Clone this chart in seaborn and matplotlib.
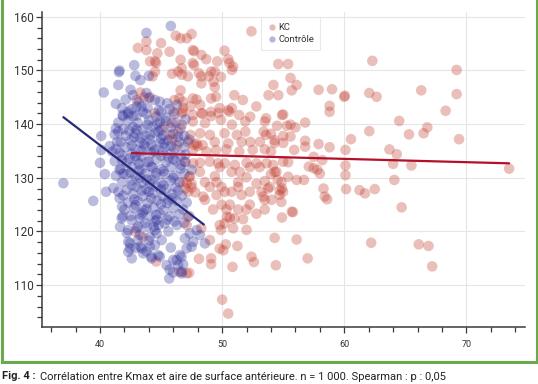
import matplotlib
matplotlib.use("Agg")
import matplotlib.pyplot as plt
from matplotlib.lines import Line2D
import seaborn as sns
import pandas as pd

# ---------------- data ----------------
kc_points = [
    # upper area
    (52.4, 157.3), (46.2, 156.5), (46.6, 156.0), (47.1, 156.0), (47.5, 156.8), (45.0, 155.1),
    (47.6, 153.8), (47.7, 153.6), (44.7, 153.2), (45.7, 153.5), (50.2, 153.7), (48.3, 152.9),
    (48.7, 152.1), (46.6, 152.0), (47.6, 151.4), (47.7, 151.0), (49.6, 151.7), (50.5, 152.1),
    (50.6, 151.4), (50.9, 150.7), (50.8, 150.1), (44.5, 151.7), (44.6, 151.4), (44.5, 149.8),
    (45.9, 149.4), (46.4, 149.8), (46.7, 149.2), (46.7, 150.4), (47.2, 148.9), (48.1, 149.5),
    (48.3, 148.9), (48.9, 148.9), (49.1, 149.8), (49.4, 149.8), (49.9, 148.8), (48.3, 147.6),
    (49.3, 147.9), (54.2, 147.3), (53.8, 145.4), (54.6, 145.4), (51.0, 145.4), (51.7, 144.5),
    (49.4, 146.9), (49.5, 145.1), (49.1, 144.8), (46.6, 146.3), (46.5, 144.8), (46.8, 144.2),
    (47.6, 144.8), (47.9, 144.6), (48.2, 143.6), (47.4, 143.3), (46.8, 143.0), (46.1, 144.5),
    (49.8, 143.0), (50.5, 142.6), (50.8, 143.0), (52.8, 143.3), (51.4, 141.7), (52.3, 141.4),
    (53.6, 141.1), (54.9, 141.7), (48.4, 142.0), (49.1, 141.5), (46.0, 142.3), (46.7, 142.0),
    (43.8, 155.4), (43.1, 154.2), (43.8, 153.8), (44.1, 151.7), (44.3, 148.9), (43.3, 145.9),
    (43.6, 145.0), (44.1, 145.0), (43.0, 144.5), (44.5, 142.0),
    # right, sparse area
    (62.3, 151.8), (69.2, 150.1), (55.4, 151.2), (54.6, 151.2), (55.6, 148.6), (56.1, 147.3),
    (55.7, 146.3), (57.9, 146.4), (59.0, 146.5), (60.0, 145.1), (60.05, 145.3), (62.05, 145.8),
    (62.65, 145.1), (66.3, 146.3), (69.2, 145.6), (68.3, 142.5), (58.8, 143.4), (58.8, 142.3),
    (55.0, 141.8), (64.5, 140.6), (62.05, 138.7), (66.8, 139.4), (66.5, 138.3), (65.3, 138.1),
    (69.4, 137.2), (60.55, 137.2), (56.8, 140.3), (54.5, 139.7), (55.3, 139.7), (55.6, 139.9),
    (56.0, 139.4), (54.0, 138.2), (55.0, 137.8), (55.6, 137.7), (54.3, 136.5), (55.0, 136.5),
    (56.8, 136.9), (56.8, 135.8), (57.9, 136.3), (58.8, 135.7), (55.9, 135.2), (60.1, 135.2),
    (63.7, 135.3), (64.3, 134.4), (57.5, 133.9), (58.2, 133.3), (55.4, 132.9), (60.1, 132.3),
    (64.0, 132.6), (65.5, 132.3), (73.5, 131.7), (57.1, 132.1), (57.5, 131.8), (57.8, 131.5),
    (58.0, 130.8), (54.3, 131.1), (54.0, 130.7), (54.55, 129.6), (55.4, 130.2), (56.1, 129.6),
    (56.7, 129.6), (60.1, 130.5), (64.1, 129.6), (60.15, 127.9), (61.25, 127.7), (61.7, 127.1),
    (62.5, 127.9), (64.7, 124.5), (58.3, 128.0), (58.4, 126.5), (58.6, 126.0), (54.9, 128.0),
    (54.7, 126.8), (54.85, 125.5), (55.7, 123.7), (55.8, 123.6), (54.9, 122.6), (56.1, 118.5),
    (57.0, 115.0), (62.2, 117.9), (66.1, 117.6), (66.9, 117.3), (67.2, 113.5), (54.3, 118.8),
    (54.4, 113.7),
    # central band
    (46.8, 142.3), (47.6, 141.7), (48.3, 142.0), (49.1, 142.3), (49.7, 142.1), (50.6, 142.3),
    (45.9, 140.2), (46.7, 139.9), (47.6, 140.5), (48.6, 140.2), (49.9, 140.8), (50.8, 139.9),
    (51.9, 140.5), (53.5, 140.5),
    (45.7, 138.0), (46.4, 138.6), (47.4, 138.0), (48.2, 138.3), (49.0, 138.0), (50.2, 138.3),
    (51.2, 138.0), (51.9, 138.6), (53.4, 138.6), (53.6, 138.0),
    (47.2, 136.7), (47.9, 136.4), (48.4, 136.1), (49.4, 136.7), (50.5, 136.4), (51.6, 136.7),
    (52.3, 136.7), (53.1, 136.7), (54.3, 137.0),
    (47.6, 135.2), (48.7, 134.9), (49.5, 135.2), (50.35, 135.3), (51.4, 134.9), (52.5, 135.2),
    (53.5, 135.3), (54.0, 134.9),
    (46.95, 133.0), (47.63, 132.7), (48.18, 132.8), (48.99, 133.0), (49.67, 132.7), (50.22, 132.7),
    (51.04, 132.4), (52.0, 132.8), (52.81, 132.7), (53.63, 132.7), (54.17, 132.4), (54.99, 133.0),
    (47.36, 130.3), (48.18, 131.1), (49.40, 130.3), (49.81, 132.0), (50.77, 131.1), (51.45, 131.1),
    (52.27, 132.0), (53.08, 132.0), (53.49, 129.4), (54.45, 131.1),
    (46.81, 129.2), (47.50, 128.9), (48.59, 129.2), (49.54, 129.2), (50.22, 127.4), (51.31, 129.2),
    (52.0, 130.1), (52.81, 128.9), (53.22, 127.4), (53.76, 128.0), (54.86, 129.2),
    (47.22, 127.4), (48.45, 126.5), (48.99, 128.3), (49.95, 128.3), (50.77, 127.4), (51.31, 128.3),
    (52.27, 127.4), (53.35, 126.5), (53.90, 128.3), (54.99, 127.4),
    (48.59, 125.9), (49.54, 126.8), (49.95, 125.0), (50.63, 125.0), (51.59, 126.8), (52.27, 125.0),
    (53.49, 125.9), (54.04, 125.9), (54.72, 127.7),
    (49.26, 124.1), (50.36, 124.1), (51.31, 124.1), (52.0, 124.1), (52.81, 123.3), (53.49, 124.1),
    (50.63, 122.6), (51.72, 122.3),
    # lower middle
    (50.4, 122.7), (51.0, 122.4), (49.8, 121.2), (49.9, 120.3), (50.9, 120.6), (52.0, 120.3),
    (50.2, 121.5), (49.0, 118.4), (49.8, 116.8), (50.3, 117.6), (50.1, 116.5), (51.25, 117.3),
    (52.4, 115.3), (52.6, 114.3), (48.1, 114.9), (49.1, 115.0), (49.1, 113.9), (50.85, 113.4),
    (47.3, 112.3), (50.0, 107.3), (50.5, 104.7), (47.2, 122.7), (48.3, 120.6), (47.1, 121.2),
    # inside the control cloud
    (42.9, 120.0), (44.6, 114.4), (46.5, 112.5), (47.1, 112.2), (43.5, 119.0),
    (47.1, 129.0), (47.5, 128.2), (47.8, 127.3), (47.3, 130.2), (47.0, 128.0),
    (47.7, 136.2), (48.0, 135.9), (45.2, 139.5), (45.9, 137.2), (46.3, 136.0),
]

ctrl_points = [
    # outer points
    (45.8, 158.3), (43.8, 157.0), (42.8, 151.0), (41.6, 150.0), (41.55, 149.7), (42.9, 149.0),
    (43.3, 148.2), (44.0, 149.0), (41.5, 147.3), (40.3, 145.9), (42.5, 146.4), (42.7, 145.4),
    (43.8, 145.8), (44.5, 144.5), (41.3, 143.8), (42.6, 142.8), (43.0, 143.3), (43.4, 143.3),
    (42.3, 141.9), (41.9, 141.5), (42.7, 141.5), (43.5, 142.3), (44.9, 144.2), (44.8, 142.6),
    (45.0, 142.3), (44.6, 141.4), (37.0, 129.0), (39.45, 125.7), (40.1, 137.8), (40.1, 135.2),
    (40.0, 132.8), (40.4, 130.7), (40.5, 127.4), (41.3, 139.2), (41.5, 138.6), (40.8, 135.9),
    (41.0, 134.9), (41.4, 136.7), (41.6, 134.7), (41.8, 133.3), (41.6, 131.5), (41.9, 130.8),
    (41.5, 127.4), (41.6, 126.2), (41.8, 124.6), (41.85, 122.8), (41.85, 141.7), (42.3, 142.3),
    # core
    (42.1, 144.6), (43.2, 144.1), (44.0, 144.9), (45.5, 143.9),
    (41.8, 143.0), (43.9, 143.1), (45.7, 142.8), (46.3, 143.6),
    (43.0, 141.6), (43.8, 141.9), (45.4, 141.2), (46.1, 141.9),
    (41.5, 140.3), (42.3, 140.6), (43.1, 140.2), (44.0, 140.7), (44.7, 140.1), (45.4, 140.6),
    (46.2, 140.3), (47.0, 140.9),
    (41.9, 139.1), (42.7, 139.5), (43.5, 139.1), (44.3, 139.6), (45.0, 139.0), (45.8, 139.4),
    (46.6, 139.2),
    (41.2, 138.1), (42.1, 137.8), (42.9, 138.3), (43.7, 137.9), (44.5, 138.4), (45.2, 137.9),
    (46.0, 138.2), (46.9, 137.8),
    (41.7, 136.7), (42.5, 137.0), (43.3, 136.6), (44.1, 137.1), (44.9, 136.6), (45.6, 137.0),
    (46.5, 136.7), (47.3, 137.1),
    (41.3, 135.4), (42.1, 135.7), (42.9, 135.3), (43.7, 135.8), (44.5, 135.3), (45.3, 135.7),
    (46.1, 135.4), (46.9, 135.8),
    (41.8, 134.2), (42.6, 134.5), (43.4, 134.1), (44.2, 134.6), (45.0, 134.1), (45.8, 134.5),
    (46.6, 134.2),
    (41.2, 133.1), (42.2, 132.8), (43.0, 133.3), (43.8, 132.9), (44.6, 133.4), (45.4, 132.9),
    (46.2, 133.2), (47.0, 132.9),
    (41.7, 131.7), (42.6, 132.0), (43.4, 131.6), (44.2, 132.1), (45.0, 131.6), (45.8, 132.0),
    (46.6, 131.7),
    (41.3, 130.4), (42.1, 130.7), (42.9, 130.3), (43.7, 130.8), (44.5, 130.3), (45.3, 130.7),
    (46.1, 130.4), (46.9, 130.8),
    (41.8, 129.2), (42.6, 129.5), (43.4, 129.1), (44.2, 129.6), (45.0, 129.1), (45.8, 129.5),
    (46.5, 129.2),
    (41.1, 128.1), (42.2, 127.8), (43.0, 128.3), (43.8, 127.9), (44.6, 128.4), (45.4, 127.9),
    (46.2, 128.2),
    (41.9, 126.7), (42.7, 127.0), (43.5, 126.6), (44.3, 127.1), (45.1, 126.6), (45.9, 127.0),
    (46.7, 126.7),
    (42.3, 125.4), (43.1, 125.7), (43.9, 125.3), (44.7, 125.8), (45.5, 125.3), (46.3, 125.7),
    (47.1, 125.4),
    (42.0, 124.1), (42.8, 124.4), (43.6, 124.0), (44.4, 124.5), (45.2, 124.0), (46.0, 124.4),
    (46.8, 124.1),
    (42.5, 122.9), (43.3, 123.2), (44.1, 122.8), (44.9, 123.3), (45.7, 122.8), (46.5, 123.2),
    (47.3, 122.9),
    (43.7, 121.6), (44.5, 121.9), (45.3, 121.5), (46.1, 121.9), (46.9, 121.6),
    (43.0, 139.0), (44.8, 138.6), (43.6, 136.2), (44.4, 135.0), (45.2, 136.4), (42.9, 134.0),
    (44.0, 133.0), (45.6, 133.8), (43.2, 131.4), (44.6, 130.9), (43.8, 129.7), (45.2, 128.6),
    (44.0, 127.4), (42.8, 126.0), (45.6, 125.9), (43.5, 123.5), (44.8, 121.2),
    (47.0, 134.3), (47.5, 131.5),
    # darkest part of the cloud (overlapping points)
    (42.4, 138.8), (43.3, 137.4), (44.1, 138.0), (45.0, 137.3), (45.8, 136.0), (42.6, 136.0),
    (43.4, 135.0), (44.2, 136.2), (45.1, 134.8), (46.0, 133.5), (42.4, 133.6), (43.2, 132.6),
    (44.3, 131.9), (45.2, 131.2), (46.0, 130.0), (42.5, 131.0), (43.3, 130.0), (44.1, 128.8),
    (45.0, 127.8), (45.9, 126.2), (42.6, 128.6), (43.4, 127.6), (44.2, 126.2), (45.0, 125.1),
    (42.9, 124.9), (43.8, 124.2), (44.6, 123.1), (45.5, 122.2), (46.3, 121.2), (43.9, 139.9),
    (44.9, 140.4), (42.8, 137.6), (46.4, 137.6), (46.6, 132.4), (46.4, 127.6), (44.5, 120.2),
    (45.6, 120.0), (43.1, 118.4), (44.0, 118.3), (45.8, 117.0),
    # lower part
    (41.77, 122.44), (41.64, 120.88), (42.31, 120.26), (42.59, 122.13), (43.27, 122.44),
    (43.0, 120.58), (43.82, 120.88), (44.64, 122.13), (42.31, 118.08), (42.45, 116.85),
    (42.31, 116.21), (43.41, 116.85), (43.54, 115.92), (44.09, 117.15), (44.50, 117.46),
    (44.23, 114.98), (44.77, 115.60), (43.27, 119.33), (44.09, 119.01), (44.64, 119.65),
    (45.67, 111.25), (45.99, 112.37), (46.68, 112.18), (46.40, 113.73), (46.81, 113.86),
    (46.27, 114.66), (46.68, 115.28), (47.09, 116.85), (47.50, 117.15), (47.63, 118.08),
    (48.18, 119.33), (48.59, 117.78), (46.95, 118.71), (47.36, 119.65), (47.91, 120.26),
    (46.54, 115.60), (45.45, 113.73), (45.7, 112.9), (46.7, 112.5), (46.0, 114.7),
    (44.9, 115.3), (44.2, 115.3), (43.8, 116.3), (42.9, 116.9), (43.3, 117.2), (42.45, 117.8),
    (42.6, 115.0), (42.2, 119.7), (43.1, 120.9), (44.4, 120.9), (45.05, 118.4),
]

# regression lines (end points)
kc_fit_x = [42.6, 73.5]
kc_fit_y = [134.6, 132.7]
ctrl_fit_x = [37.0, 48.5]
ctrl_fit_y = [141.3, 121.3]

group_labels = ["KC", "Contrôle"]
x_major_ticks = [40, 50, 60, 70]
y_major_ticks = [110, 120, 130, 140, 150, 160]
caption_bold = "Fig. 4 :"
caption_rest = "Corrélation entre Kmax et aire de surface antérieure. n = 1 000. Spearman : p : 0,05"

# ---------------- build frame ----------------
df = pd.DataFrame(
    [(x, y, group_labels[0]) for x, y in kc_points]
    + [(x, y, group_labels[1]) for x, y in ctrl_points],
    columns=["x", "y", "groupe"],
)
fit_df = pd.DataFrame({
    "x": kc_fit_x + ctrl_fit_x,
    "y": kc_fit_y + ctrl_fit_y,
    "groupe": [group_labels[0]] * 2 + [group_labels[1]] * 2,
})

sns.set_theme(style="white")
plt.rcParams["font.family"] = ["Roboto", "DejaVu Sans"]

kc_color = "#c0392b"
ctrl_color = "#2e2e9a"

fig = plt.figure(figsize=(5.38, 3.84), dpi=100)
ax = fig.add_axes([42 / 538, 1 - 327 / 384, (525 - 42) / 538, (327 - 12) / 384])

sns.scatterplot(
    data=df, x="x", y="y", hue="groupe", hue_order=group_labels,
    palette={group_labels[0]: kc_color, group_labels[1]: ctrl_color},
    s=58, alpha=0.32, edgecolor="none", linewidth=0, ax=ax, legend=False, zorder=2,
)
sns.lineplot(
    data=fit_df, x="x", y="y", hue="groupe", hue_order=group_labels,
    palette={group_labels[0]: "#b3102a", group_labels[1]: "#272a7a"},
    linewidth=1.6, ax=ax, legend=False, zorder=3, sort=False,
)

ax.set_xlim(35.25, 74.8)
ax.set_ylim(102.2, 160.9)
ax.set_xticks(x_major_ticks)
ax.set_yticks(y_major_ticks)
ax.set_xticks([t for t in range(36, 75, 2)], minor=True)
ax.set_yticks([t for t in range(104, 161, 2)], minor=True)
ax.set_xlabel("")
ax.set_ylabel("")
ax.grid(True, which="major", color="#e6e6e6", linewidth=0.8)
ax.set_axisbelow(True)
for side in ["top", "right"]:
    ax.spines[side].set_visible(False)
for side in ["left", "bottom"]:
    ax.spines[side].set_color("#3a3a3a")
    ax.spines[side].set_linewidth(1.1)
ax.tick_params(axis="both", which="both", direction="out", color="#3a3a3a", width=0.9,
               bottom=True, left=True, top=False, right=False)
ax.tick_params(axis="both", which="major", length=4.5)
ax.tick_params(axis="both", which="minor", length=3.5)
ax.tick_params(axis="x", which="major", labelsize=6.5, pad=5, labelcolor="#333333")
ax.tick_params(axis="y", which="major", labelsize=8.5, pad=1.5, labelcolor="#333333")

handles = [
    Line2D([], [], linestyle="none", marker="o", markersize=4.5, markerfacecolor=kc_color,
           markeredgecolor="none", alpha=0.35, label=group_labels[0]),
    Line2D([], [], linestyle="none", marker="o", markersize=4.5, markerfacecolor=ctrl_color,
           markeredgecolor="none", alpha=0.35, label=group_labels[1]),
]
leg = ax.legend(handles=handles, loc="upper left", bbox_to_anchor=(0.454, 0.983),
                frameon=True, fontsize=6.8, handletextpad=0.2, handlelength=1.0,
                borderpad=0.6, labelspacing=0.35, fancybox=False, borderaxespad=0)
leg.get_frame().set_edgecolor("#e4e4e4")
leg.get_frame().set_linewidth(0.8)
for t in leg.get_texts():
    t.set_color("#333333")

# green frame (left, bottom, right)
green = "#6aaa4e"
yb = 1 - 362 / 384
fig.add_artist(Line2D([1.5 / 538, 1.5 / 538, 536.5 / 538, 536.5 / 538],
                      [1.02, yb, yb, 1.02], color=green, linewidth=2.2,
                      transform=fig.transFigure, solid_joinstyle="miter"))

# caption
t1 = fig.text(2 / 538, 1 - 371 / 384, caption_bold, fontsize=8, fontweight="bold",
              va="top", ha="left", color="#222222")
ax.annotate(caption_rest, xy=(1, 1), xycoords=t1, xytext=(3, 0),
            textcoords="offset points", va="top", ha="left", fontsize=8,
            color="#222222", annotation_clip=False)

fig.savefig("out.png", dpi=100)
